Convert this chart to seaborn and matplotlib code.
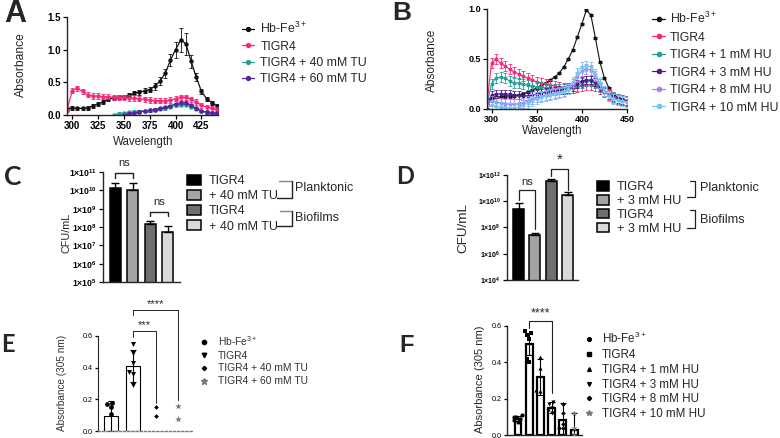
import numpy as np
import matplotlib
matplotlib.use('Agg')
import matplotlib.pyplot as plt
from matplotlib.lines import Line2D
from matplotlib.patches import Patch
import seaborn as sns

# ---------------- data ----------------
# panel A: absorbance spectra, thiourea (TU)
wl_a = np.arange(295, 441, 5)
a_labels = ['Hb-Fe$^{3+}$', 'TIGR4', 'TIGR4 + 40 mM TU', 'TIGR4 + 60 mM TU']
a_hb = [0.09, 0.11, 0.10, 0.10, 0.11, 0.14, 0.17, 0.20, 0.24, 0.26, 0.27, 0.28, 0.30, 0.33, 0.35,
        0.37, 0.39, 0.44, 0.52, 0.64, 0.84, 1.00, 1.15, 1.09, 0.82, 0.58, 0.36, 0.25, 0.19, 0.14]
a_tigr4 = [0.08, 0.37, 0.41, 0.36, 0.31, 0.29, 0.29, 0.28, 0.28, 0.27, 0.27, 0.27, 0.26, 0.26, 0.25,
           0.24, 0.23, 0.22, 0.22, 0.22, 0.23, 0.25, 0.27, 0.27, 0.24, 0.20, 0.15, 0.12, 0.10, 0.08]
a_tu40 = [np.nan] * 9 + [0.00, 0.02, 0.03, 0.04, 0.05, 0.05, 0.06, 0.07, 0.08, 0.09, 0.10, 0.12,
                         0.15, 0.16, 0.16, 0.13, 0.09, 0.06, 0.04, 0.03, 0.02]
a_tu60 = [np.nan] * 11 + [0.00, 0.02, 0.03, 0.05, 0.06, 0.07, 0.08, 0.10, 0.12, 0.14, 0.17, 0.19,
                          0.19, 0.15, 0.10, 0.06, 0.04, 0.03, 0.03]
a_hb_err = [0.03, 0.03, 0.03, 0.03, 0.03, 0.03, 0.03, 0.03, 0.03, 0.03, 0.03, 0.03, 0.03, 0.03, 0.04,
            0.04, 0.04, 0.05, 0.06, 0.07, 0.09, 0.12, 0.18, 0.17, 0.10, 0.06, 0.04, 0.03, 0.03, 0.03]
a_err = [a_hb_err, 0.04, 0.02, 0.02]
a_colors = ['#111111', '#f5287a', '#2a9c9a', '#55259a']

# panel B: absorbance spectra, hydroxyurea (HU)
wl_b = np.arange(295, 451, 5)
b_labels = ['Hb-Fe$^{3+}$', 'TIGR4', 'TIGR4 + 1 mM HU', 'TIGR4 + 3 mM HU',
            'TIGR4 + 8 mM HU', 'TIGR4 + 10 mM HU']
b_hb = [0.04, 0.11, 0.12, 0.12, 0.13, 0.13, 0.13, 0.14, 0.15, 0.17, 0.19, 0.21, 0.23, 0.26, 0.29, 0.32,
        0.36, 0.42, 0.50, 0.59, 0.72, 0.85, 0.99, 0.94, 0.71, 0.47, 0.31, 0.21, 0.15, 0.11, 0.10, 0.08]
b_tigr4 = [0.06, 0.46, 0.50, 0.46, 0.43, 0.40, 0.37, 0.35, 0.33, 0.31, 0.29, 0.27, 0.26, 0.25, 0.24, 0.23,
           0.22, 0.21, 0.21, 0.21, 0.22, 0.23, 0.24, 0.24, 0.23, 0.20, 0.17, 0.14, 0.12, 0.10, 0.09, 0.08]
b_hu1 = [0.05, 0.25, 0.31, 0.32, 0.31, 0.28, 0.26, 0.26, 0.25, 0.24, 0.23, 0.22, 0.22, 0.21, 0.20, 0.20,
         0.20, 0.20, 0.20, 0.21, 0.23, 0.26, 0.28, 0.28, 0.26, 0.22, 0.18, 0.15, 0.12, 0.10, 0.09, 0.08]
b_hu3 = [0.05, 0.14, 0.15, 0.15, 0.15, 0.15, 0.14, 0.14, 0.13, 0.13, 0.14, 0.15, 0.16, 0.17, 0.18, 0.18,
         0.19, 0.19, 0.20, 0.22, 0.25, 0.28, 0.29, 0.29, 0.27, 0.22, 0.17, 0.14, 0.12, 0.10, 0.09, 0.08]
b_hu8 = [0.04, 0.08, 0.07, 0.06, 0.05, 0.05, 0.05, 0.05, 0.06, 0.08, 0.10, 0.12, 0.13, 0.14, 0.15, 0.16,
         0.17, 0.18, 0.20, 0.25, 0.32, 0.38, 0.40, 0.39, 0.33, 0.25, 0.18, 0.13, 0.11, 0.09, 0.08, 0.07]
b_hu10 = [0.03, 0.04, 0.03, 0.02, 0.02, 0.01, 0.01, 0.02, 0.04, 0.06, 0.08, 0.10, 0.12, 0.13, 0.14, 0.15,
          0.16, 0.17, 0.20, 0.27, 0.36, 0.42, 0.43, 0.42, 0.35, 0.26, 0.18, 0.13, 0.10, 0.09, 0.08, 0.07]
b_err = [0.006, 0.05, 0.05, 0.04, 0.05, 0.05]
b_colors = ['#111111', '#f5287a', '#2a9c9a', '#4d1c8c', '#b57cf2', '#72c6f2']

# panel C: CFU/mL with thiourea
c_names = ['TIGR4', '+ 40 mM TU', 'TIGR4 ', '+ 40 mM TU ']
c_cfu = [1.3e10, 1.0e10, 1.5e8, 5.5e7]
c_upper = [2.5e10, 2.5e10, 2.0e8, 1.1e8]
# panel D: CFU/mL with hydroxyurea
d_names = ['TIGR4', '+ 3 mM HU', 'TIGR4 ', '+ 3 mM HU ']
d_cfu = [2.8e9, 2.8e7, 3.6e11, 2.9e10]
d_upper = [8e9, 4e7, 5e11, 5e10]
cfu_colors = ['#000000', '#a3a3a3', '#6f6f6f', '#d9d9d9']

# panel E: absorbance at 305 nm, thiourea
e_names = ['Hb-Fe$^{3+}$', 'TIGR4', 'TIGR4 + 40 mM TU', 'TIGR4 + 60 mM TU']
e_mean = [0.093, 0.41, np.nan, np.nan]
e_sd = [0.095, 0.10, np.nan, np.nan]
e_points = [[0.17, 0.18, 0.15, 0.11],
            [0.55, 0.49, 0.43, 0.375, 0.36, 0.29],
            [0.15, 0.095],
            [0.16, 0.075]]
e_markers = ['o', 'v', 'D', '*']

# panel F: absorbance at 305 nm, hydroxyurea
f_names = ['Hb-Fe$^{3+}$', 'TIGR4', 'TIGR4 + 1 mM HU', 'TIGR4 + 3 mM HU',
           'TIGR4 + 8 mM HU', 'TIGR4 + 10 mM HU']
f_mean = [0.09, 0.50, 0.32, 0.15, 0.085, 0.025]
f_sd = [0.015, 0.06, 0.10, 0.03, 0.09, 0.095]
f_points = [[0.11, 0.10, 0.10, 0.09, 0.08, 0.07],
            [0.57, 0.56, 0.55, 0.53, 0.42, 0.40],
            [0.43, 0.37, 0.25, 0.24],
            [0.18, 0.17, 0.15, 0.13, 0.12],
            [0.17, 0.12, 0.06, 0.04, 0.04],
            [0.12, 0.04, 0.0]]
f_markers = ['o', 's', '^', 'v', 'D', '*']

# ---------------- style ----------------
sns.set_style('ticks')
plt.rcParams['font.family'] = ['Liberation Sans', 'DejaVu Sans']
plt.rcParams['mathtext.fontset'] = 'custom'
plt.rcParams['mathtext.rm'] = 'Liberation Sans'
plt.rcParams['mathtext.default'] = 'regular'
plt.rcParams['axes.linewidth'] = 1.0

W, H = 780, 438
fig = plt.figure(figsize=(W / 100, H / 100), dpi=100)


def rect(l, t, r, b):
    return [l / W, 1 - b / H, (r - l) / W, (b - t) / H]


def ftext(x, y, s, **kw):
    fig.text(x / W, 1 - y / H, s, ha=kw.pop('ha', 'center'), va=kw.pop('va', 'center'), **kw)


def fline(xs, ys, **kw):
    fig.add_artist(Line2D([x / W for x in xs], [1 - y / H for y in ys],
                          transform=fig.transFigure, **kw))


def style_ax(ax, size, bold=False, tl=3):
    sns.despine(ax=ax)
    ax.tick_params(length=tl, width=0.9, labelsize=size, pad=1.5, colors='black')
    if bold:
        for t in ax.get_xticklabels() + ax.get_yticklabels():
            t.set_fontweight('bold')
    ax.set_xlabel('')
    ax.set_ylabel('')


def sig(ax, x1, x2, y, y1, y2, text, ty, fs, lw=0.8):
    ax.plot([x1, x1, x2, x2], [y1, y, y, y2], color='#222222', lw=lw, clip_on=False)
    ax.text((x1 + x2) / 2, ty, text, ha='center', va='center', fontsize=fs, clip_on=False)


# ---------------- A ----------------
axA = fig.add_axes(rect(67, 17, 218, 115))
for vals, err, col in zip([a_hb, a_tigr4, a_tu40, a_tu60], a_err, a_colors):
    sns.lineplot(x=wl_a, y=vals, color=col, marker='o', markersize=3.2, markeredgewidth=0,
                 linewidth=0.9, ax=axA)
    axA.errorbar(wl_a, vals, yerr=err, fmt='none', ecolor=col, elinewidth=0.6,
                 capsize=1.5, capthick=0.6)
axA.set_xlim(295, 441)
axA.set_ylim(0, 1.5)
axA.set_xticks([300, 325, 350, 375, 400, 425])
axA.set_yticks([0, 0.5, 1.0, 1.5], ['0.0', '0.5', '1.0', '1.5'])
style_ax(axA, 7, bold=True)
handles = [Line2D([], [], color=c, marker='o', markersize=2.8, lw=0.9) for c in a_colors]
fig.legend(handles, a_labels, loc='upper left', bbox_to_anchor=(242 / W, 1 - 21 / H),
           frameon=False, fontsize=8.8, handlelength=1.0, handletextpad=0.5,
           labelspacing=0.36, borderpad=0, borderaxespad=0)
ftext(21, 65, 'Absorbance', rotation=90, fontsize=8.7)
ftext(143, 142, 'Wavelength', fontsize=8.3)
ftext(15, 14, 'A', fontsize=22, fontweight='bold')

# ---------------- B ----------------
axB = fig.add_axes(rect(487, 9, 627, 109))
for vals, err, col in zip([b_hb, b_tigr4, b_hu1, b_hu3, b_hu8, b_hu10], b_err, b_colors):
    sns.lineplot(x=wl_b, y=vals, color=col, marker='o', markersize=2.8, markeredgewidth=0,
                 linewidth=0.8, ax=axB)
    axB.errorbar(wl_b, vals, yerr=err, fmt='none', ecolor=col, elinewidth=0.6,
                 capsize=1.3, capthick=0.6)
axB.set_xlim(295, 450)
axB.set_ylim(0, 1.0)
axB.set_xticks([300, 350, 400, 450])
axB.set_yticks([0, 0.5, 1.0], ['0.0', '0.5', '1.0'])
style_ax(axB, 6.5, bold=True)
handles = [Line2D([], [], color=c, marker='o', markersize=3, lw=0.9) for c in b_colors]
fig.legend(handles, b_labels, loc='upper left', bbox_to_anchor=(652 / W, 1 - 11 / H),
           frameon=False, fontsize=8.8, handlelength=1.1, handletextpad=0.35,
           labelspacing=0.45, borderpad=0, borderaxespad=0)
ftext(432, 60, 'Absorbance', rotation=90, fontsize=8.6)
ftext(552, 131, 'Wavelength', fontsize=8.3)
ftext(402, 13, 'B', fontsize=19, fontweight='bold')


# ---------------- C / D ----------------
def cfu_panel(ax, names, vals, upper, width, exps, tsize):
    sns.barplot(x=names, y=vals, hue=names, palette=cfu_colors, order=names, hue_order=names,
                edgecolor='black', linewidth=1.1, width=width, legend=False, errorbar=None, ax=ax)
    ax.errorbar(range(len(vals)), vals, yerr=[np.zeros(len(vals)), np.array(upper) - np.array(vals)],
                fmt='none', ecolor='black', elinewidth=1.0, capsize=3, capthick=1.0)
    ax.set_yscale('log')
    ax.set_ylim(10.0 ** exps[0], 10.0 ** exps[-1])
    ax.set_yticks([10.0 ** e for e in exps], ['1×10$^{%d}$' % e for e in exps])
    ax.minorticks_off()
    ax.set_xticks([])
    style_ax(ax, tsize, bold=True)


axC = fig.add_axes(rect(103, 172, 180, 282))
cfu_panel(axC, c_names, c_cfu, c_upper, 0.64, [5, 6, 7, 8, 9, 10, 11], 6.2)
axC.set_xlim(-0.72, 3.72)
sig(axC, 0, 1, 9e10, 5e10, 5e10, 'ns', 3e11, 8, lw=1.0)
sig(axC, 2, 3, 7e8, 4e8, 4e8, 'ns', 2.2e9, 8, lw=1.0)
ftext(67, 233, 'CFU/mL', rotation=90, fontsize=7.8)
ftext(12.5, 177, 'C', fontsize=19, fontweight='bold', family='Lato')
handles = [Patch(facecolor=c, edgecolor='black', linewidth=1.1) for c in cfu_colors]
fig.legend(handles, [n.strip() for n in c_names], loc='upper left',
           bbox_to_anchor=(187 / W, 1 - 175 / H), frameon=False, fontsize=9,
           handlelength=1.1, handleheight=0.85, handletextpad=0.65, labelspacing=0.22,
           borderpad=0, borderaxespad=0)
fline([279, 292], [181, 181], color='#888888', lw=1)
fline([292, 292, 277], [181, 198, 198], color='#222222', lw=1)
fline([280, 292], [211, 211], color='#888888', lw=1)
fline([292, 292, 277], [211, 226, 226], color='#222222', lw=1)
ftext(295, 188, 'Planktonic', fontsize=9, ha='left')
ftext(295, 218, 'Biofilms', fontsize=9, ha='left')

axD = fig.add_axes(rect(507, 175, 578, 280))
cfu_panel(axD, d_names, d_cfu, d_upper, 0.67, [4, 6, 8, 10, 12], 5)
axD.set_xlim(-0.71, 3.64)
sig(axD, 0, 1, 7e10, 1.2e10, 8e7, 'ns', 3e11, 8, lw=0.9)
sig(axD, 2, 3, 2.7e12, 8e11, 7e10, '*', 1.4e13, 11, lw=0.9)
ftext(463, 228, 'CFU/mL', rotation=90, fontsize=9.7)
ftext(405, 176.5, 'D', fontsize=17, fontweight='bold', family='Lato')
fig.legend(handles, [n.strip() for n in d_names], loc='upper left',
           bbox_to_anchor=(597 / W, 1 - 181 / H), frameon=False, fontsize=9.2,
           handlelength=0.95, handleheight=0.8, handletextpad=0.6, labelspacing=0.12,
           borderpad=0, borderaxespad=0)
fline([690, 695, 695, 687], [181, 181, 197, 197], color='#222222', lw=0.9)
fline([690, 695, 695, 687], [210, 210, 228, 228], color='#222222', lw=0.9)
ftext(700, 188, 'Planktonic', fontsize=9.2, ha='left')
ftext(700, 220, 'Biofilms', fontsize=9.2, ha='left')


# ---------------- E / F ----------------
def dot_panel(ax, names, means, sds, points, markers, colors, sizes, width, bar_lw):
    sns.barplot(x=names, y=means, order=names, color='white', edgecolor='black',
                linewidth=bar_lw, width=width, errorbar=None, ax=ax)
    ax.errorbar(range(len(names)), means, yerr=sds, fmt='none', ecolor='black',
                elinewidth=0.8, capsize=2.5, capthick=0.8)
    for name, pts, m, c, s in zip(names, points, markers, colors, sizes):
        sns.swarmplot(x=[name] * len(pts), y=pts, order=names, marker=m, color=c,
                      size=s, linewidth=0, ax=ax)
    ax.set_xticks([])


e_colors = ['black', 'black', 'black', '#777777']
e_sizes = [3.4, 3.6, 2.4, 5]
axE = fig.add_axes(rect(98, 336, 193, 431))
dot_panel(axE, e_names, e_mean, e_sd, e_points, e_markers, e_colors, e_sizes, 0.63, 0.8)
axE.set_xlim(-0.58, 3.67)
axE.set_ylim(0, 0.6)
axE.set_yticks([0, 0.2, 0.4, 0.6], ['0.0', '0.2', '0.4', '0.6'])
style_ax(axE, 5.2, tl=2)
axE.spines['bottom'].set_linestyle((0, (1.5, 1.5)))
axE.spines['bottom'].set_color('#777777')
axE.spines['left'].set_linewidth(0.8)
sig(axE, 1, 3, 0.765, 0.734, 0.196, '****', 0.80, 8, lw=0.7)
sig(axE, 1, 2, 0.633, 0.595, 0.177, '***', 0.668, 8, lw=0.7)
ftext(62, 383, 'Absorbance (305 nm)', rotation=90, fontsize=7.2, color='#333333')
ftext(7.5, 345, 'E', fontsize=17, fontweight='bold', family='Lato')
handles = [Line2D([], [], color=c, marker=m, markersize=s * 0.9, lw=0)
           for m, c, s in zip(e_markers, e_colors, e_sizes)]
fig.legend(handles, e_names, loc='upper left', bbox_to_anchor=(200 / W, 1 - 334 / H),
           frameon=False, fontsize=7.4, handlelength=0.8, handletextpad=0.95,
           labelspacing=0.27, borderpad=0, borderaxespad=0, labelcolor='#333333')

f_colors = ['black'] * 5 + ['#777777']
f_sizes = [3.0, 3.0, 3.0, 3.0, 2.4, 4.5]
axF = fig.add_axes(rect(507, 326, 582, 435))
dot_panel(axF, f_names, f_mean, f_sd, f_points, f_markers, f_colors, f_sizes, 0.62, 1.6)
axF.set_xlim(-0.98, 5.71)
axF.set_ylim(0, 0.6)
axF.set_yticks([0, 0.2, 0.4, 0.6], ['0.0', '0.2', '0.4', '0.6'])
style_ax(axF, 5.2, tl=2)
sig(axF, 1, 3, 0.626, 0.588, 0.23, '****', 0.67, 9, lw=0.8)
ftext(480, 379, 'Absorbance (305 nm)', rotation=90, fontsize=8)
ftext(407, 345, 'F', fontsize=17, fontweight='bold')
handles = [Line2D([], [], color=c, marker=m, markersize=s * 0.9, lw=0)
           for m, c, s in zip(f_markers, f_colors, f_sizes)]
fig.legend(handles, f_names, loc='upper left', bbox_to_anchor=(584 / W, 1 - 331 / H),
           frameon=False, fontsize=8.4, handlelength=0.8, handletextpad=0.7,
           labelspacing=0.24, borderpad=0, borderaxespad=0)

fig.savefig('out.png', dpi=100)
